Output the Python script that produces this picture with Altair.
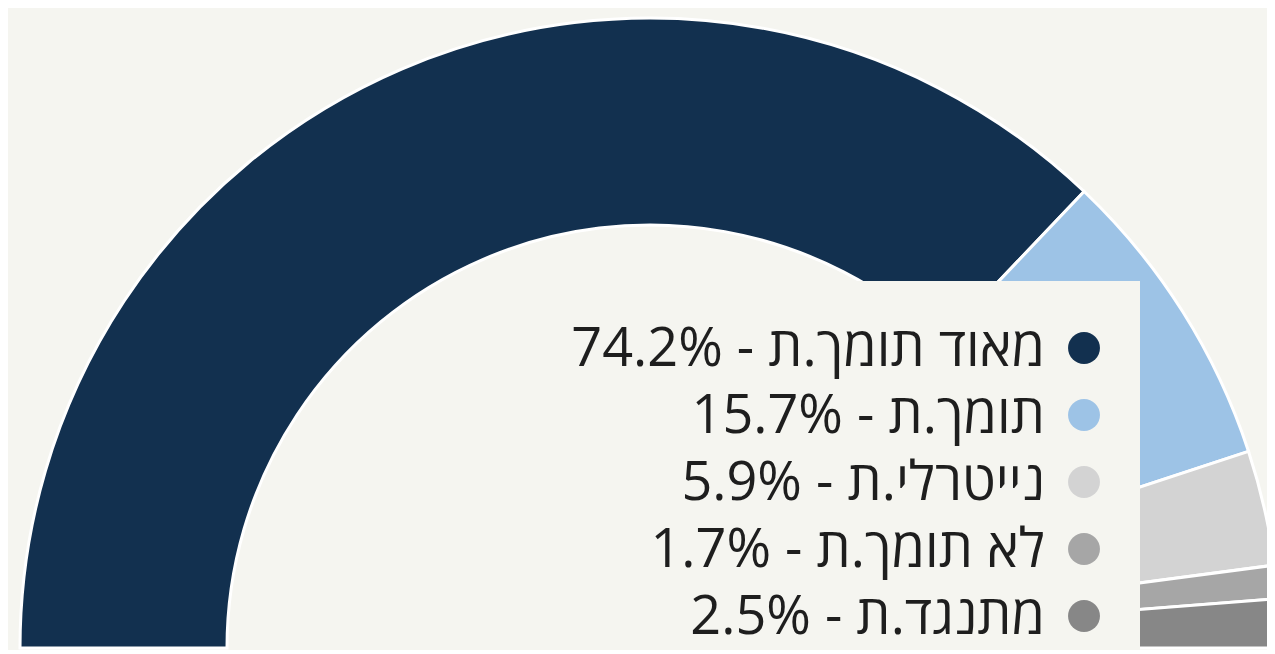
import math
import altair as alt
import pandas as pd

# ---- data -------------------------------------------------------------
categories = ["מאוד תומך.ת", "תומך.ת", "נייטרלי.ת", "לא תומך.ת", "מתנגד.ת"]
values = [74.2, 15.7, 5.9, 1.7, 2.5]
colors = ["#12304F", "#9DC3E6", "#D3D3D3", "#A6A6A6", "#878787"]

df = pd.DataFrame({
    "category": categories,
    "value": values,
    "order": list(range(len(categories))),
})
df["label"] = [f"{v:.1f}% - {c}" for v, c in zip(values, categories)]

BG = "#F5F5F0"
W, H = 1259, 642
CX, CY = 642, 640

color_scale = alt.Scale(domain=categories, range=colors)

arc = alt.Chart(df).mark_arc(
    outerRadius=630, innerRadius=423, stroke="white", strokeWidth=3
).encode(
    theta=alt.Theta("value:Q", stack=True,
                    scale=alt.Scale(range=[-math.pi / 2, math.pi / 2], nice=False, zero=True)),
    color=alt.Color("category:N", scale=color_scale, legend=None),
    order=alt.Order("order:Q"),
    x=alt.value(CX),
    y=alt.value(CY),
)

box = alt.Chart(pd.DataFrame({"a": [0]})).mark_rect(color=BG).encode(
    x=alt.value(530), x2=alt.value(1132), y=alt.value(273), y2=alt.value(H + 10)
)

yscale = alt.Scale(type="point", domain=categories, range=[340, 608], padding=0)

dots = alt.Chart(df).mark_circle(size=1018, opacity=1).encode(
    x=alt.value(1076),
    y=alt.Y("category:N", scale=yscale, axis=None),
    color=alt.Color("category:N", scale=color_scale, legend=None),
)

labels = alt.Chart(df).mark_text(
    align="right", baseline="middle", fontSize=54, font="Open Sans", color="#1E1E1E", dy=2
).encode(
    x=alt.value(1037),
    y=alt.Y("category:N", scale=yscale, axis=None),
    text="label:N",
)

chart = alt.layer(arc, box, dots, labels).properties(
    width=W, height=H, padding=0, autosize="none", background=BG
).configure_view(stroke=None)

chart.save("out.html", embed_options={"renderer": "svg", "actions": False})
